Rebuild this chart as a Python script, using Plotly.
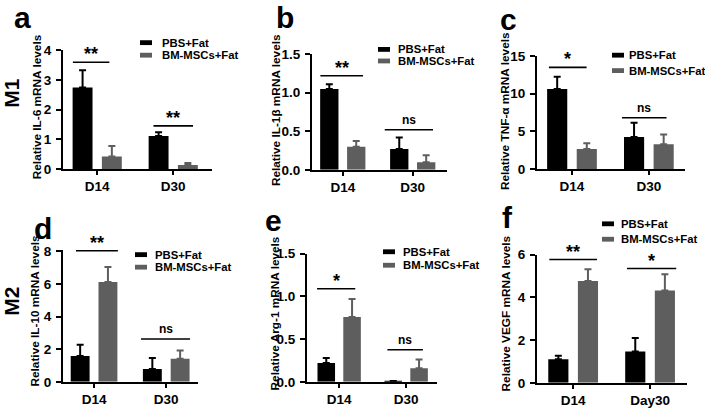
import plotly.graph_objects as go

# ---------------- data ----------------
series_names = ["PBS+Fat", "BM-MSCs+Fat"]

cats_a = ["D14", "D30"]
pbs_a = [2.75, 1.11]
pbs_a_sem = [0.58, 0.13]
bm_a = [0.42, 0.13]
bm_a_sem = [0.35, 0.07]
sig_a = ["**", "**"]
sig_a_y = [3.6, 1.45]

cats_b = ["D14", "D30"]
pbs_b = [1.05, 0.27]
pbs_b_sem = [0.06, 0.15]
bm_b = [0.30, 0.10]
bm_b_sem = [0.075, 0.09]
sig_b = ["**", "ns"]
sig_b_y = [1.22, 0.52]

cats_c = ["D14", "D30"]
pbs_c = [10.64, 4.23]
pbs_c_sem = [1.63, 1.92]
bm_c = [2.65, 3.29]
bm_c_sem = [0.75, 1.28]
sig_c = ["*", "ns"]
sig_c_y = [13.5, 6.8]

cats_d = ["D14", "D30"]
pbs_d = [1.58, 0.79]
pbs_d_sem = [0.69, 0.67]
bm_d = [6.12, 1.42]
bm_d_sem = [0.93, 0.50]
sig_d = ["**", "ns"]
sig_d_y = [8.04, 2.63]

cats_e = ["D14", "D30"]
pbs_e = [0.22, 0.01]
pbs_e_sem = [0.06, 0.0]
bm_e = [0.76, 0.16]
bm_e_sem = [0.21, 0.10]
sig_e = ["*", "ns"]
sig_e_y = [1.09, 0.375]

cats_f = ["D14", "Day30"]
pbs_f = [1.10, 1.47]
pbs_f_sem = [0.17, 0.63]
bm_f = [4.77, 4.32]
bm_f_sem = [0.55, 0.76]
sig_f = ["**", "*"]
sig_f_y = [5.77, 5.35]

ytitles = ["Relative IL-6 mRNA levels", "Relative IL-1β mRNA levels",
           "Relative TNF-α mRNA levels", "Relative IL-10 mRNA levels",
           "Relative Arg-1 mRNA levels", "Relative VEGF mRNA levels"]
yticks_a = [0, 1, 2, 3, 4]
yticks_b = [0.0, 0.5, 1.0, 1.5]
yticks_c = [0, 5, 10, 15]
yticks_d = [0, 2, 4, 6, 8]
yticks_e = [0.0, 0.5, 1.0, 1.5]
yticks_f = [0, 2, 4, 6]
panel_letters = ["a", "b", "c", "d", "e", "f"]
row_labels = ["M1", "M2"]

# ---------------- layout config (pixels) ----------------
W, H = 705, 412
FONT = "Liberation Sans, Arial, sans-serif"
BLACK = "#000000"
GREY = "#5e5e5e"


def px_x(p):
    return p / W


def px_y(p):
    return 1 - p / H


panels = [
    dict(cats=cats_a, pbs=pbs_a, pe=pbs_a_sem, bm=bm_a, be=bm_a_sem, sig=sig_a, sigy=sig_a_y,
         ticks=yticks_a, fmt="d", ymax=4, dom_x=(63, 212), dom_y=(45, 168), xr=(-0.45, 1.51),
         spans=[(-0.32, 0.16), (-0.26, 0.26)], title_xy=(37, 104), letter_xy=(22, 11),
         leg_sw=(140, 37, 50), leg_tx=160),
    dict(cats=cats_b, pbs=pbs_b, pe=pbs_b_sem, bm=bm_b, be=bm_b_sem, sig=sig_b, sigy=sig_b_y,
         ticks=yticks_b, fmt=".1f", ymax=1.5, dom_x=(312, 447), dom_y=(49, 169), xr=(-0.44, 1.49),
         spans=[(-0.32, 0.29), (-0.40, 0.29)], title_xy=(276, 107), letter_xy=(285, 11),
         leg_sw=(378, 44, 56), leg_tx=396),
    dict(cats=cats_c, pbs=pbs_c, pe=pbs_c_sem, bm=bm_c, be=bm_c_sem, sig=sig_c, sigy=sig_c_y,
         ticks=yticks_c, fmt="d", ymax=15, dom_x=(537, 685), dom_y=(51, 168), xr=(-0.455, 1.47),
         spans=[(-0.30, 0.19), (-0.35, 0.23)], title_xy=(505, 108), letter_xy=(508, 13),
         leg_sw=(612, 50, 66), leg_tx=627),
    dict(cats=cats_d, pbs=pbs_d, pe=pbs_d_sem, bm=bm_d, be=bm_d_sem, sig=sig_d, sigy=sig_d_y,
         ticks=yticks_d, fmt="d", ymax=8.1, dom_x=(63, 198), dom_y=(252, 389), xr=(-0.43, 1.44),
         spans=[(-0.25, 0.33), (-0.35, 0.33)], title_xy=(35, 316), letter_xy=(43, 230),
         leg_sw=(135, 257, 270), leg_tx=153),
    dict(cats=cats_e, pbs=pbs_e, pe=pbs_e_sem, bm=bm_e, be=bm_e_sem, sig=sig_e, sigy=sig_e_y,
         ticks=yticks_e, fmt=".1f", ymax=1.5, dom_x=(307, 437), dom_y=(256, 389), xr=(-0.48, 1.46),
         spans=[(-0.33, 0.24), (-0.28, 0.25)], title_xy=(275, 318), letter_xy=(273, 222),
         leg_sw=(383, 254, 268), leg_tx=401),
    dict(cats=cats_f, pbs=pbs_f, pe=pbs_f_sem, bm=bm_f, be=bm_f_sem, sig=sig_f, sigy=sig_f_y,
         ticks=yticks_f, fmt="d", ymax=6, dom_x=(537, 687), dom_y=(257, 390), xr=(-0.47, 1.48),
         spans=[(-0.31, 0.31), (-0.30, 0.34)], title_xy=(506, 318), letter_xy=(507, 218),
         leg_sw=(602, 225, 241), leg_tx=619),
]

fig = go.Figure()
shapes = []
annotations = []

for i, p in enumerate(panels):
    n = "" if i == 0 else str(i + 1)
    xa, ya = "x" + n, "y" + n
    for name, vals, errs, col in [(series_names[0], p["pbs"], p["pe"], BLACK),
                                  (series_names[1], p["bm"], p["be"], GREY)]:
        fig.add_trace(go.Bar(
            x=p["cats"], y=vals, name=name, marker=dict(color=col, line=dict(width=0)),
            error_y=dict(type="data", symmetric=False, array=errs, arrayminus=[0] * len(errs),
                         color=col, thickness=2, width=3.5),
            xaxis=xa, yaxis=ya, showlegend=False, offsetgroup=name,
        ))
    axis_common = dict(showline=True, linecolor=BLACK, linewidth=2, showgrid=False,
                       zeroline=False, ticks="outside", tickcolor=BLACK, tickwidth=2,
                       mirror=False)
    fig.update_layout(**{
        ("xaxis" + n): dict(axis_common, domain=[px_x(p["dom_x"][0]), px_x(p["dom_x"][1])],
                            anchor=ya, range=list(p["xr"]), ticklen=4, type="category",
                            tickfont=dict(family=FONT, size=13.5, color=BLACK, weight="bold")),
        ("yaxis" + n): dict(axis_common, domain=[px_y(p["dom_y"][1]), px_y(p["dom_y"][0])],
                            anchor=xa, range=[0, p["ymax"]], ticklen=5, tickvals=p["ticks"],
                            tickformat=p["fmt"], ticklabelstandoff=2,
                            tickfont=dict(family=FONT, size=13.5, color=BLACK, weight="bold")),
    })
    # significance bars
    for j, (lab, yv) in enumerate(zip(p["sig"], p["sigy"])):
        x0, x1 = p["spans"][j]
        shapes.append(dict(type="line", xref=xa, yref=ya, x0=j + x0, x1=j + x1, y0=yv, y1=yv,
                           line=dict(color=BLACK, width=1.6)))
        star = lab != "ns"
        annotations.append(dict(xref=xa, yref=ya, x=j + (x0 + x1) / 2, y=yv, text=lab,
                                showarrow=False, yanchor="bottom",
                                yshift=(-4 if star else 1),
                                font=dict(family=FONT, size=(18 if star else 12),
                                          color=BLACK, weight="bold")))
    # y title
    tx, ty = p["title_xy"]
    annotations.append(dict(xref="paper", yref="paper", x=px_x(tx), y=px_y(ty), text=ytitles[i],
                            textangle=-90, showarrow=False, xanchor="center", yanchor="middle",
                            font=dict(family=FONT, size=11.8, color=BLACK, weight="bold")))
    # panel letter
    lx, ly = p["letter_xy"]
    annotations.append(dict(xref="paper", yref="paper", x=px_x(lx), y=px_y(ly),
                            text=panel_letters[i], showarrow=False, xanchor="center",
                            yanchor="middle",
                            font=dict(family=FONT, size=30, color=BLACK, weight="bold")))
    # manual legend
    sx, sy1, sy2 = p["leg_sw"]
    for name, col, sy in [(series_names[0], BLACK, sy1), (series_names[1], GREY, sy2)]:
        shapes.append(dict(type="rect", xref="paper", yref="paper",
                           x0=px_x(sx), x1=px_x(sx + 12), y0=px_y(sy + 2.5), y1=px_y(sy - 2.5),
                           fillcolor=col, line=dict(width=0)))
        annotations.append(dict(xref="paper", yref="paper", x=px_x(p["leg_tx"]), y=px_y(sy),
                                text=name, showarrow=False, xanchor="left", yanchor="middle",
                                font=dict(family=FONT, size=11.3, color=BLACK, weight="bold")))

# row labels
for lab, yy in zip(row_labels, [90, 306]):
    annotations.append(dict(xref="paper", yref="paper", x=px_x(12), y=px_y(yy), text=lab,
                            textangle=-90, showarrow=False, xanchor="center", yanchor="middle",
                            font=dict(family=FONT, size=21, color=BLACK, weight="bold")))

fig.update_layout(
    width=W, height=H, margin=dict(l=0, r=0, t=0, b=0),
    paper_bgcolor="white", plot_bgcolor="white",
    barmode="group", bargap=0.23, bargroupgap=0.32,
    shapes=shapes, annotations=annotations, showlegend=False,
    font=dict(family=FONT, color=BLACK),
)

fig.write_html("out.html", config={"displayModeBar": False},
               post_script="document.body.style.margin='0px';")
